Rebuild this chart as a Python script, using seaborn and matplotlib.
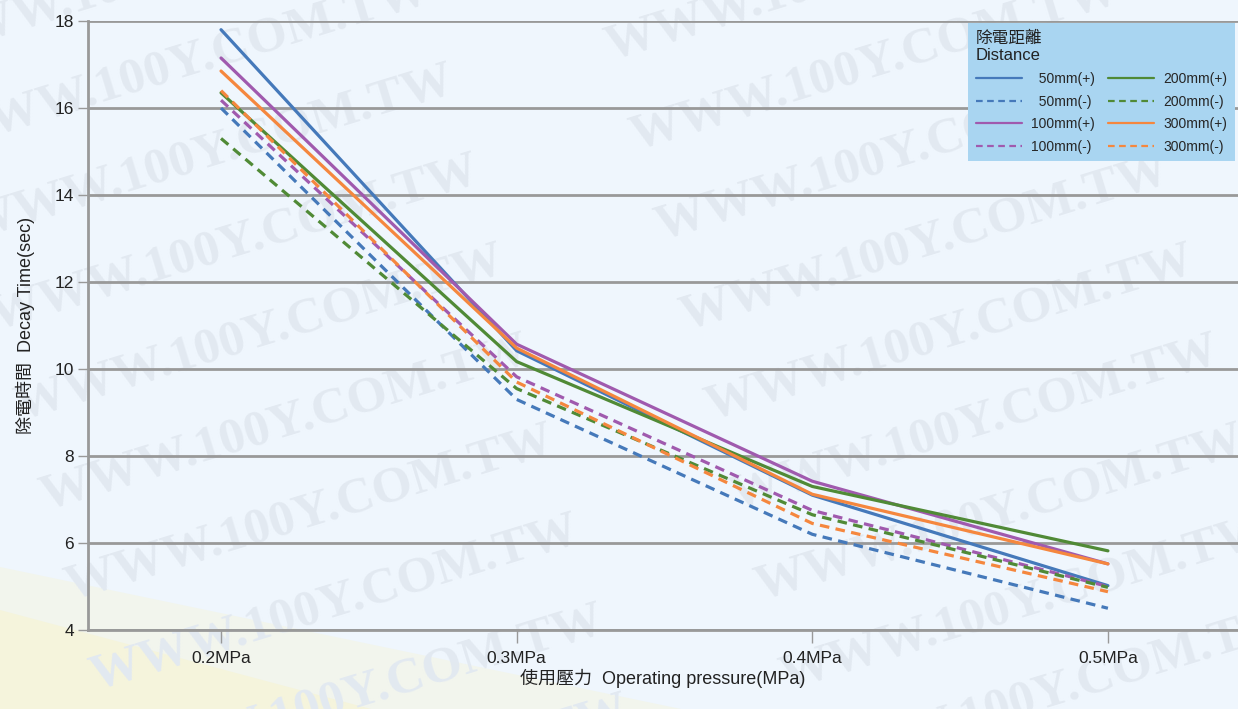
import numpy as np
import pandas as pd
import matplotlib
matplotlib.use("Agg")
import matplotlib.pyplot as plt
from matplotlib.lines import Line2D
from matplotlib.patches import Polygon
import seaborn as sns

# values
pressures = ["0.2MPa", "0.3MPa", "0.4MPa", "0.5MPa"]
d50_pos = [17.8, 10.42, 7.10, 5.02]
d50_neg = [16.0, 9.30, 6.20, 4.50]
d100_pos = [17.15, 10.57, 7.42, 5.52]
d100_neg = [16.18, 9.82, 6.75, 5.0]
d200_pos = [16.35, 10.17, 7.30, 5.82]
d200_neg = [15.3, 9.55, 6.65, 4.98]
d300_pos = [16.85, 10.48, 7.12, 5.52]
d300_neg = [16.4, 9.70, 6.45, 4.88]

distances = ["50mm", "100mm", "200mm", "300mm"]
series = {
    ("50mm", "+"): d50_pos, ("50mm", "-"): d50_neg,
    ("100mm", "+"): d100_pos, ("100mm", "-"): d100_neg,
    ("200mm", "+"): d200_pos, ("200mm", "-"): d200_neg,
    ("300mm", "+"): d300_pos, ("300mm", "-"): d300_neg,
}
colors = {"50mm": "#4579ba", "100mm": "#a05aae", "200mm": "#508a36", "300mm": "#f5873e"}

rows = []
for (dist, sign), vals in series.items():
    for p, v in zip(pressures, vals):
        rows.append({"pressure": p, "time": v, "distance": dist, "sign": sign})
df = pd.DataFrame(rows)

sns.set_theme(style="white")
plt.rcParams['font.family'] = ['Liberation Sans', 'Noto Sans CJK TC', 'DejaVu Sans']

bg = "#eff6fd"
W, H = 1238, 709
fig = plt.figure(figsize=(12.38, 7.09), dpi=100, facecolor=bg)

# pale yellow wedge in lower left
fig.patches.append(Polygon([(0, 0.20), (0, 0), (0.55, 0)], closed=True,
                           transform=fig.transFigure, facecolor="#f2f5ed", edgecolor="none", zorder=-3))
fig.patches.append(Polygon([(0, 0.14), (0, 0), (0.30, 0)], closed=True,
                           transform=fig.transFigure, facecolor="#f5f4dc", edgecolor="none", zorder=-2))

# faint site watermark tiled over the page
for i in range(-4, 10):
    for j in range(-1, 3):
        x = -80 + j * 690 + i * 25
        y = 60 + i * 90
        fig.text(x / W, 1 - y / H, "WWW.100Y.COM.TW", fontsize=37, fontweight="bold",
                 family="Liberation Serif", color="#e2e9f1", rotation=17,
                 ha="left", va="baseline", zorder=-1, rotation_mode="anchor")

ax = fig.add_axes([88 / W, 1 - 630 / H, 1 - 88 / W, (630 - 21) / H])
ax.set_facecolor("none")

sns.lineplot(data=df, x="pressure", y="time", hue="distance", style="sign",
             palette=colors, dashes={"+": "", "-": (3, 2)}, sort=False,
             lw=2.3, legend=False, ax=ax, zorder=3)

ax.set_xlim(-0.45, 3.44)
ax.set_ylim(4, 18)
ax.set_yticks([4, 6, 8, 10, 12, 14, 16, 18])
ax.yaxis.grid(True, color="#999999", lw=2)
ax.xaxis.grid(False)
for s in ["top", "right"]:
    ax.spines[s].set_visible(False)
for s in ["left", "bottom"]:
    ax.spines[s].set_color("#999999")
    ax.spines[s].set_linewidth(2)
ax.tick_params(axis="y", direction="out", length=7, width=1, color="#999999",
               labelsize=12.5, labelcolor="#222222", left=True, pad=3)
ax.tick_params(axis="x", direction="out", length=9, width=1, color="#999999",
               labelsize=12.5, labelcolor="#222222", bottom=True, pad=6)
ax.set_xlabel("使用壓力  Operating pressure(MPa)", fontsize=13, color="#222222", labelpad=2)
ax.set_ylabel("除電時間  Decay Time(sec)", fontsize=13, color="#222222", labelpad=14)

handles = []
labels = []
for dist in distances:
    for sign in ["+", "-"]:
        ls = "-" if sign == "+" else (0, (3, 2))
        handles.append(Line2D([], [], color=colors[dist], lw=1.6, ls=ls))
        lab = dist + "(" + sign + ")"
        if dist == "50mm":
            lab = "  " + lab
        labels.append(lab)

leg = ax.legend(handles, labels, ncol=2, loc="upper right",
                bbox_to_anchor=(1235 / W, 1 - 23 / H), bbox_transform=fig.transFigure,
                borderaxespad=0, frameon=True, fancybox=False, fontsize=10,
                title="除電距離\nDistance", title_fontsize=12, alignment="left",
                handlelength=3.3, handletextpad=0.7, columnspacing=0.9,
                labelspacing=0.62, borderpad=0.55)
leg.get_frame().set_facecolor("#a9d5f1")
leg.get_frame().set_edgecolor("none")
leg.get_frame().set_alpha(1)
leg.get_title().set_color("#222222")
leg.set_zorder(5)

fig.savefig("out.png", dpi=100, facecolor=bg)
